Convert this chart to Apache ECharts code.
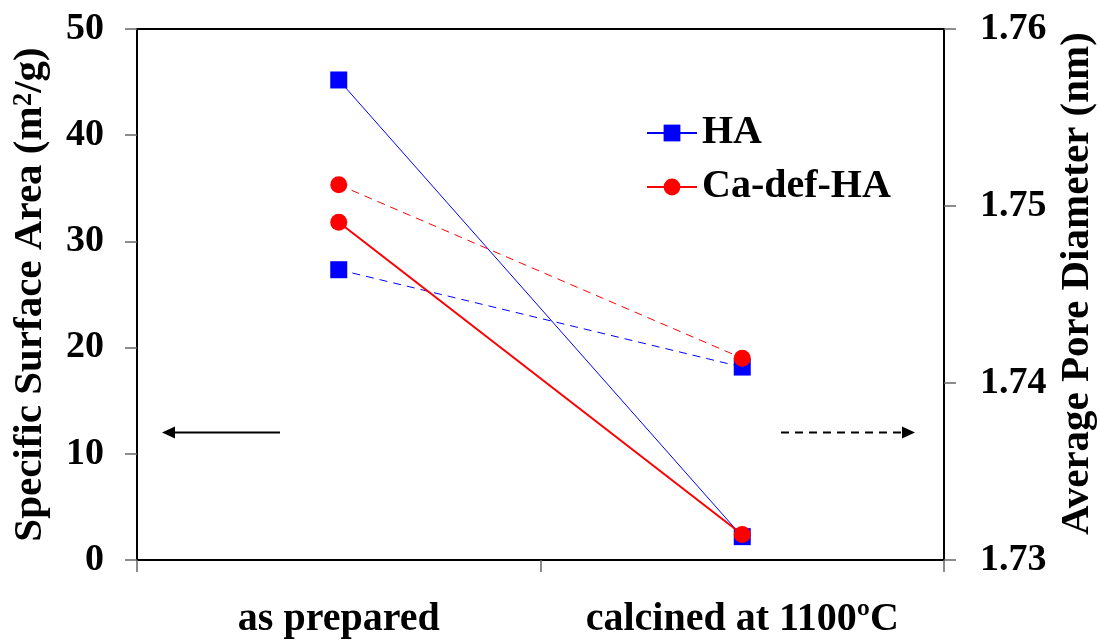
<!DOCTYPE html>
<html>
<head>
<meta charset="utf-8">
<script src="https://cdn.jsdelivr.net/npm/echarts@6/dist/echarts.min.js"></script>
<style>
  html, body { margin: 0; padding: 0; background: #fff; }
  #chart { width: 1100px; height: 642px; }
</style>
</head>
<body>
<div id="chart"></div>
<script>
// Sample conditions along the x axis
const categories = ['as prepared', 'calcined at 1100ºC'];

// Specific surface area (m²/g), left axis, solid lines
const haSurfaceArea = [45.2, 2.2];
const caDefSurfaceArea = [31.8, 2.4];

// Average pore diameter (nm), right axis, dashed lines
const haPoreDiameter = [1.7464, 1.7409];
const caDefPoreDiameter = [1.7512, 1.7414];

// Axis tick settings
const leftTicks = { min: 0, max: 50, interval: 10 };
const rightTicks = { min: 1.73, max: 1.76, interval: 0.01 };

const FONT = '"Liberation Serif", "Times New Roman", serif';
const BLUE = '#0000ff';
const RED = '#ff0000';

const chart = echarts.init(document.getElementById('chart'), null, { renderer: 'canvas' });

const tickLabel = {
  fontFamily: FONT, fontWeight: 'bold', fontSize: 38, color: '#000', margin: 33
};

const option = {
  backgroundColor: '#fff',
  animation: false,
  grid: { left: 137, right: 156, top: 29, bottom: 82, containLabel: false, outerBoundsMode: 'none' },
  legend: {
    orient: 'vertical',
    left: 641,
    top: 108,
    itemWidth: 50,
    itemHeight: 21,
    itemGap: 14,
    data: ['HA', 'Ca-def-HA'],
    textStyle: { fontFamily: FONT, fontWeight: 'bold', fontSize: 40, color: '#000', padding: [0, 0, 0, 0] }
  },
  xAxis: [
    {
      type: 'category',
      data: categories,
      boundaryGap: true,
      axisLine: { lineStyle: { color: '#000', width: 2 } },
      axisTick: { show: true, length: 12, inside: false, lineStyle: { color: '#666', width: 1.5 } },
      axisLabel: { interval: 0, fontFamily: FONT, fontWeight: 'bold', fontSize: 40, color: '#000', margin: 40 },
      splitLine: { show: false }
    },
    {
      type: 'category',
      data: categories,
      position: 'top',
      axisLine: { lineStyle: { color: '#000', width: 2 } },
      axisTick: { show: false },
      axisLabel: { show: false },
      splitLine: { show: false }
    }
  ],
  yAxis: [
    {
      type: 'value',
      position: 'left',
      min: leftTicks.min, max: leftTicks.max, interval: leftTicks.interval,
      name: 'Specific Surface Area (m{sup|2}/g)',
      nameLocation: 'middle',
      nameGap: 79,
      nameTextStyle: {
        fontFamily: FONT, fontWeight: 'bold', fontSize: 41, color: '#000',
        rich: {
          sup: { fontFamily: FONT, fontWeight: 'bold', fontSize: 27, color: '#000', verticalAlign: 'top', lineHeight: 27, padding: [0, 0, 18, 0] }
        }
      },
      axisLine: { show: true, lineStyle: { color: '#000', width: 2 } },
      axisTick: { show: true, length: 12, lineStyle: { color: '#666', width: 1.5 } },
      axisLabel: tickLabel,
      splitLine: { show: false }
    },
    {
      type: 'value',
      position: 'right',
      min: rightTicks.min, max: rightTicks.max, interval: rightTicks.interval,
      name: 'Average Pore Diameter (nm)',
      nameLocation: 'middle',
      nameGap: 112,
      nameRotate: 90,
      nameTextStyle: { fontFamily: FONT, fontWeight: 'bold', fontSize: 41, color: '#000', padding: [0, 0, 0, 22] },
      axisLine: { show: true, lineStyle: { color: '#000', width: 2 } },
      axisTick: { show: true, length: 12, lineStyle: { color: '#666', width: 1.5 } },
      axisLabel: Object.assign({}, tickLabel, {
        margin: 36,
        formatter: v => v.toFixed(2)
      }),
      splitLine: { show: false }
    }
  ],
  series: [
    {
      name: 'HA', type: 'line', yAxisIndex: 0, data: haSurfaceArea,
      symbol: 'rect', symbolSize: 17, z: 3,
      lineStyle: { color: BLUE, width: 1 },
      itemStyle: { color: BLUE }
    },
    {
      name: 'Ca-def-HA', type: 'line', yAxisIndex: 0, data: caDefSurfaceArea,
      symbol: 'circle', symbolSize: 17, z: 4,
      lineStyle: { color: RED, width: 2 },
      itemStyle: { color: RED }
    },
    {
      name: 'HA', type: 'line', yAxisIndex: 1, data: haPoreDiameter,
      symbol: 'rect', symbolSize: 17, z: 3,
      lineStyle: { color: BLUE, width: 1, type: [8, 6] },
      itemStyle: { color: BLUE }
    },
    {
      name: 'Ca-def-HA', type: 'line', yAxisIndex: 1, data: caDefPoreDiameter,
      symbol: 'circle', symbolSize: 17, z: 4,
      lineStyle: { color: RED, width: 1, type: [8, 6] },
      itemStyle: { color: RED }
    }
  ]
};

chart.setOption(option);

// Arrows pointing each line style to its axis (solid → left, dashed → right)
const arrowY = chart.convertToPixel({ yAxisIndex: 0 }, 12);
chart.setOption({
  graphic: [
    { type: 'line', shape: { x1: 280, y1: arrowY, x2: 172, y2: arrowY }, style: { stroke: '#000', lineWidth: 2 } },
    { type: 'polygon', shape: { points: [[162, arrowY], [175, arrowY - 6], [175, arrowY + 6]] }, style: { fill: '#000' } },
    { type: 'line', shape: { x1: 781, y1: arrowY, x2: 904, y2: arrowY }, style: { stroke: '#000', lineWidth: 2, lineDash: [8, 6] } },
    { type: 'polygon', shape: { points: [[915, arrowY], [902, arrowY - 6], [902, arrowY + 6]] }, style: { fill: '#000' } }
  ]
});
</script>
</body>
</html>
